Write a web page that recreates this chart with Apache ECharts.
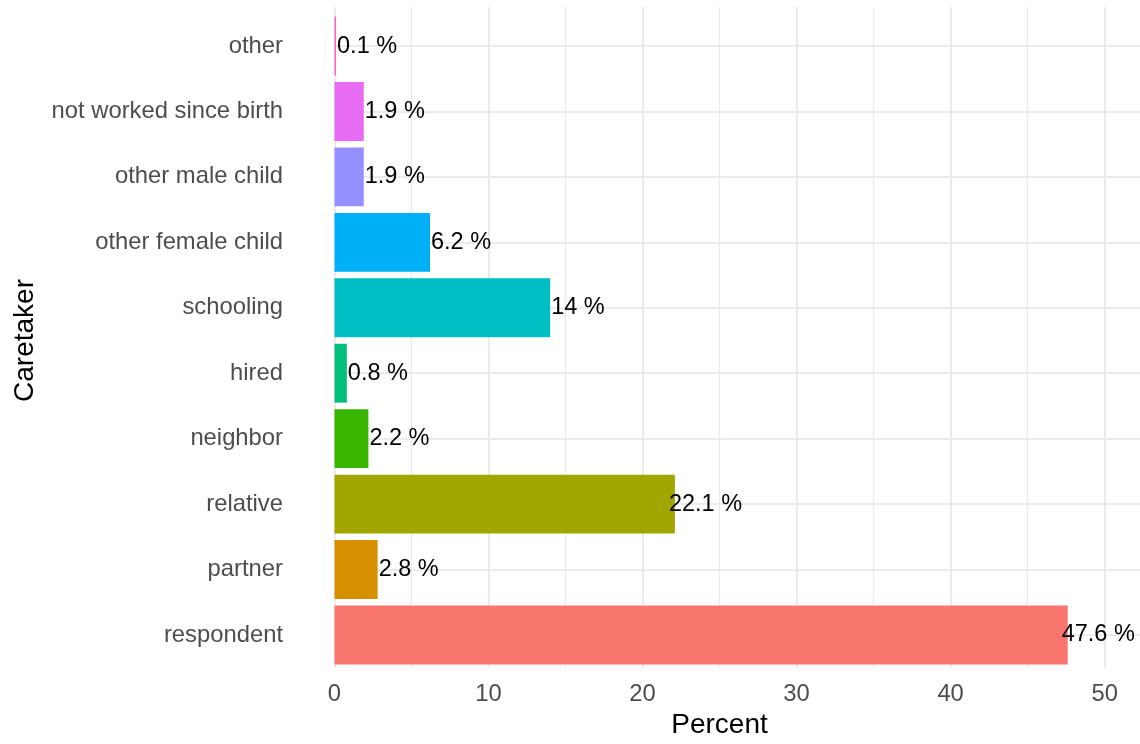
<!DOCTYPE html>
<html>
<head>
<meta charset="utf-8">
<script src="https://cdn.jsdelivr.net/npm/echarts@6/dist/echarts.min.js"></script>
<style>
  html, body { margin: 0; padding: 0; background: #ffffff; }
  #chart { width: 1140px; height: 744px; }
</style>
</head>
<body>
<div id="chart"></div>
<script>
// Categories listed bottom to top
const categories = ['respondent', 'partner', 'relative', 'neighbor', 'hired', 'schooling',
  'other female child', 'other male child', 'not worked since birth', 'other'];
const percents = [47.6, 2.8, 22.1, 2.2, 0.8, 14, 6.2, 1.9, 1.9, 0.1];
const barColors = ['#F8766D', '#D89000', '#A3A500', '#39B600', '#00BF7D', '#00BFC4',
  '#00B0F6', '#9590FF', '#E76BF3', '#FF62BC'];
const xTickMin = 0, xTickMax = 50, xTickStep = 10;

const FONT = '"Liberation Sans", Arial, Helvetica, sans-serif';
const chart = echarts.init(document.getElementById('chart'), null, { renderer: 'canvas' });

const option = {
  animation: false,
  backgroundColor: '#ffffff',
  textStyle: { fontFamily: FONT },
  grid: [
    { left: 296, right: 3, top: 13.3, bottom: 76.3, containLabel: false },
    { left: 334.3, width: 770.4, top: 6.7, bottom: 70, containLabel: false }
  ],
  xAxis: [
    {
      gridIndex: 0, type: 'value', min: -2.5, max: 52.1, show: false,
      splitLine: { show: false }
    },
    {
      gridIndex: 1, type: 'value', min: xTickMin, max: xTickMax, interval: xTickStep,
      axisLine: { show: false }, axisTick: { show: false },
      axisLabel: { color: '#4D4D4D', fontSize: 23.8, margin: 14, fontFamily: FONT },
      splitLine: { show: true, lineStyle: { color: '#EBEBEB', width: 2 } },
      minorTick: { show: false, splitNumber: 2 },
      minorSplitLine: { show: true, lineStyle: { color: '#EBEBEB', width: 1.3 } },
      name: 'Percent', nameLocation: 'middle', nameGap: 42,
      nameTextStyle: { color: '#000000', fontSize: 28, fontFamily: FONT }
    }
  ],
  yAxis: [
    {
      gridIndex: 0, type: 'category', data: categories,
      axisLine: { show: false },
      axisTick: { show: true, alignWithLabel: true, inside: true, length: 841,
        lineStyle: { color: '#EBEBEB', width: 2 } },
      axisLabel: { color: '#4D4D4D', fontSize: 23.8, margin: 13, fontFamily: FONT,
        padding: [3, 0, 0, 0] },
      splitLine: { show: false },
      name: 'Caretaker', nameLocation: 'middle', nameGap: 257,
      nameTextStyle: { color: '#000000', fontSize: 28, fontFamily: FONT }
    },
    { gridIndex: 1, type: 'value', show: false, min: 0, max: 1 }
  ],
  series: [
    {
      type: 'bar', xAxisIndex: 0, yAxisIndex: 0,
      barCategoryGap: '10%',
      data: percents.map((v, i) => ({ value: v, itemStyle: { color: barColors[i] } })),
      label: {
        show: true, position: 'right', distance: 1, offset: [0, 1.5],
        formatter: p => p.value + ' %',
        color: '#000000', fontSize: 23.5, fontFamily: FONT
      },
      labelLayout: function (params) {
        // labels of long bars sit slightly back over the bar end, as in the reference
        return params.rect.width > 300 ? { dx: -7 } : {};
      },
      z: 3
    }
  ]
};
chart.setOption(option);
</script>
</body>
</html>
